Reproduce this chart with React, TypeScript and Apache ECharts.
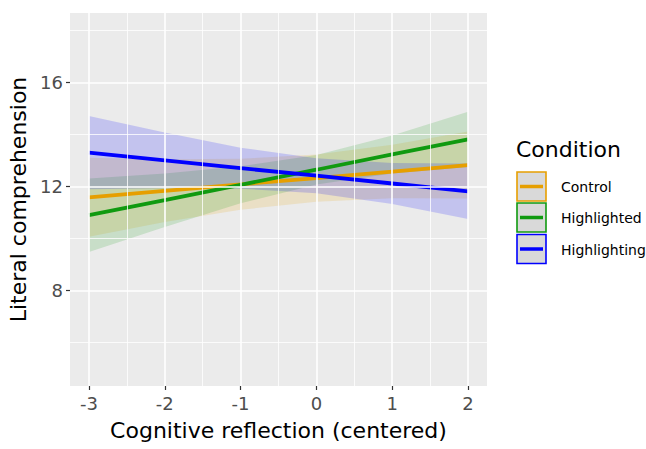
import React, { useEffect, useRef } from "react";
import * as echarts from "echarts";

const conditions = ["Control", "Highlighted", "Highlighting"];
const lineColors = ["#E69F00", "#109A10", "#0000FF"];
const bandColors = ["rgba(230,159,0,0.16)", "rgba(16,154,16,0.16)", "rgba(0,0,255,0.17)"];

const xValues = [-3, -2, -1, 0, 1, 2];
const controlFit = [11.59, 11.84, 12.09, 12.33, 12.58, 12.83];
const controlLower = [10.07, 10.64, 11.11, 11.42, 11.55, 11.54];
const controlUpper = [13.11, 13.05, 13.07, 13.24, 13.61, 14.12];
const highlightedFit = [10.9, 11.48, 12.07, 12.65, 13.24, 13.82];
const highlightedLower = [9.49, 10.45, 11.36, 12.08, 12.51, 12.76];
const highlightedUpper = [12.31, 12.51, 12.78, 13.22, 13.97, 14.88];
const highlightingFit = [13.31, 13.01, 12.71, 12.42, 12.12, 11.82];
const highlightingLower = [11.9, 11.94, 11.92, 11.75, 11.33, 10.75];
const highlightingUpper = [14.72, 14.08, 13.5, 13.09, 12.91, 12.89];

const xTicks = [-3, -2, -1, 0, 1, 2];
const xMinor = [-2.5, -1.5, -0.5, 0.5, 1.5];
const yTicks = [8, 12, 16];
const yMinor = [6, 10, 14, 18];

const fits = [controlFit, highlightedFit, highlightingFit];
const lowers = [controlLower, highlightedLower, highlightingLower];
const uppers = [controlUpper, highlightedUpper, highlightingUpper];

const FONT = "DejaVu Sans";

export default function App() {
  const ref = useRef<HTMLDivElement>(null);
  useEffect(() => {
    if (!ref.current) return;
    const chart = echarts.init(ref.current, undefined, { renderer: "svg" });

    const series: any[] = [];
    // gridlines
    series.push({
      type: "line",
      data: [],
      z: 1,
      silent: true,
      markLine: {
        silent: true,
        symbol: ["none", "none"],
        label: { show: false },
        animation: false,
        data: [
          ...xMinor.map((v) => ({ xAxis: v, lineStyle: { color: "#FFFFFF", width: 0.8, type: "solid" } })),
          ...yMinor.map((v) => ({ yAxis: v, lineStyle: { color: "#FFFFFF", width: 0.8, type: "solid" } })),
          ...xTicks.map((v) => ({ xAxis: v, lineStyle: { color: "#FFFFFF", width: 1.6, type: "solid" } })),
          ...yTicks.map((v) => ({ yAxis: v, lineStyle: { color: "#FFFFFF", width: 1.6, type: "solid" } })),
        ],
      },
    });

    conditions.forEach((name, i) => {
      const lo = lowers[i];
      const hi = uppers[i];
      series.push({
        type: "custom",
        name: name + " band",
        coordinateSystem: "cartesian2d",
        data: xValues.map((x, k) => [x, lo[k], hi[k]]),
        encode: { x: 0, y: [1, 2] },
        silent: true,
        z: 2,
        renderItem: (params: any, api: any) => {
          if (params.dataIndex !== 0) return null;
          const pts: number[][] = [];
          for (let k = 0; k < xValues.length; k++) pts.push(api.coord([xValues[k], hi[k]]));
          for (let k = xValues.length - 1; k >= 0; k--) pts.push(api.coord([xValues[k], lo[k]]));
          return {
            type: "polygon",
            shape: { points: pts },
            style: { fill: bandColors[i], stroke: "none" },
          };
        },
      });
      series.push({
        type: "line",
        name,
        data: xValues.map((x, k) => [x, fits[i][k]]),
        symbol: "none",
        lineStyle: { width: 3.8, color: lineColors[i] },
        silent: true,
        z: 2,
      });
    });

    const legendItems: any[] = [];
    const keyTops = [172, 203, 234.5];
    conditions.forEach((name, i) => {
      legendItems.push({
        type: "rect",
        shape: { x: 517, y: keyTops[i], width: 29, height: 29 },
        style: { fill: "#D9D9D9", stroke: lineColors[i], lineWidth: 1.6 },
      });
      legendItems.push({
        type: "line",
        shape: { x1: 520, y1: keyTops[i] + 14.5, x2: 543, y2: keyTops[i] + 14.5 },
        style: { stroke: lineColors[i], lineWidth: 3.5 },
      });
      legendItems.push({
        type: "text",
        x: 561,
        y: keyTops[i] + 15,
        style: {
          text: name,
          fill: "#000000",
          font: `14px "${FONT}"`,
          verticalAlign: "middle",
        },
      });
    });
    legendItems.push({
      type: "text",
      x: 516,
      y: 149,
      style: {
        text: "Condition",
        fill: "#000000",
        font: `22px "${FONT}"`,
        verticalAlign: "middle",
      },
    });

    chart.setOption({
      animation: false,
      textStyle: { fontFamily: FONT },
      grid: {
        left: 70,
        right: 159,
        top: 13,
        bottom: 63,
        show: true,
        backgroundColor: "#EBEBEB",
        borderWidth: 0,
        containLabel: false,
        outerBoundsMode: "none",
      },
      xAxis: {
        type: "value",
        min: -3.25,
        max: 2.25,
        splitLine: { show: false },
        axisLine: { show: false, onZero: false },
        axisTick: {
          show: true,
          customValues: xTicks,
          length: 4,
          lineStyle: { color: "#333333", width: 1.2 },
        },
        axisLabel: {
          customValues: xTicks,
          color: "#4D4D4D",
          fontSize: 18,
          fontFamily: FONT,
          margin: 8,
        },
        name: "Cognitive reflection (centered)",
        nameLocation: "middle",
        nameGap: 33,
        nameTextStyle: { color: "#000000", fontSize: 22, fontFamily: FONT },
      },
      yAxis: {
        type: "value",
        min: 4.33,
        max: 18.68,
        splitLine: { show: false },
        axisLine: { show: false, onZero: false },
        axisTick: {
          show: true,
          customValues: yTicks,
          length: 4,
          lineStyle: { color: "#333333", width: 1.2 },
        },
        axisLabel: {
          customValues: yTicks,
          color: "#4D4D4D",
          fontSize: 18,
          fontFamily: FONT,
          margin: 7,
        },
        name: "Literal comprehension",
        nameLocation: "middle",
        nameGap: 36,
        nameTextStyle: { color: "#000000", fontSize: 22, fontFamily: FONT },
      },
      graphic: legendItems,
      series,
    });

    return () => chart.dispose();
  }, []);
  return (
    <div
      ref={ref}
      style={{ position: "absolute", left: 0, top: 0, width: 646, height: 449, background: "#FFFFFF" }}
    />
  );
}
